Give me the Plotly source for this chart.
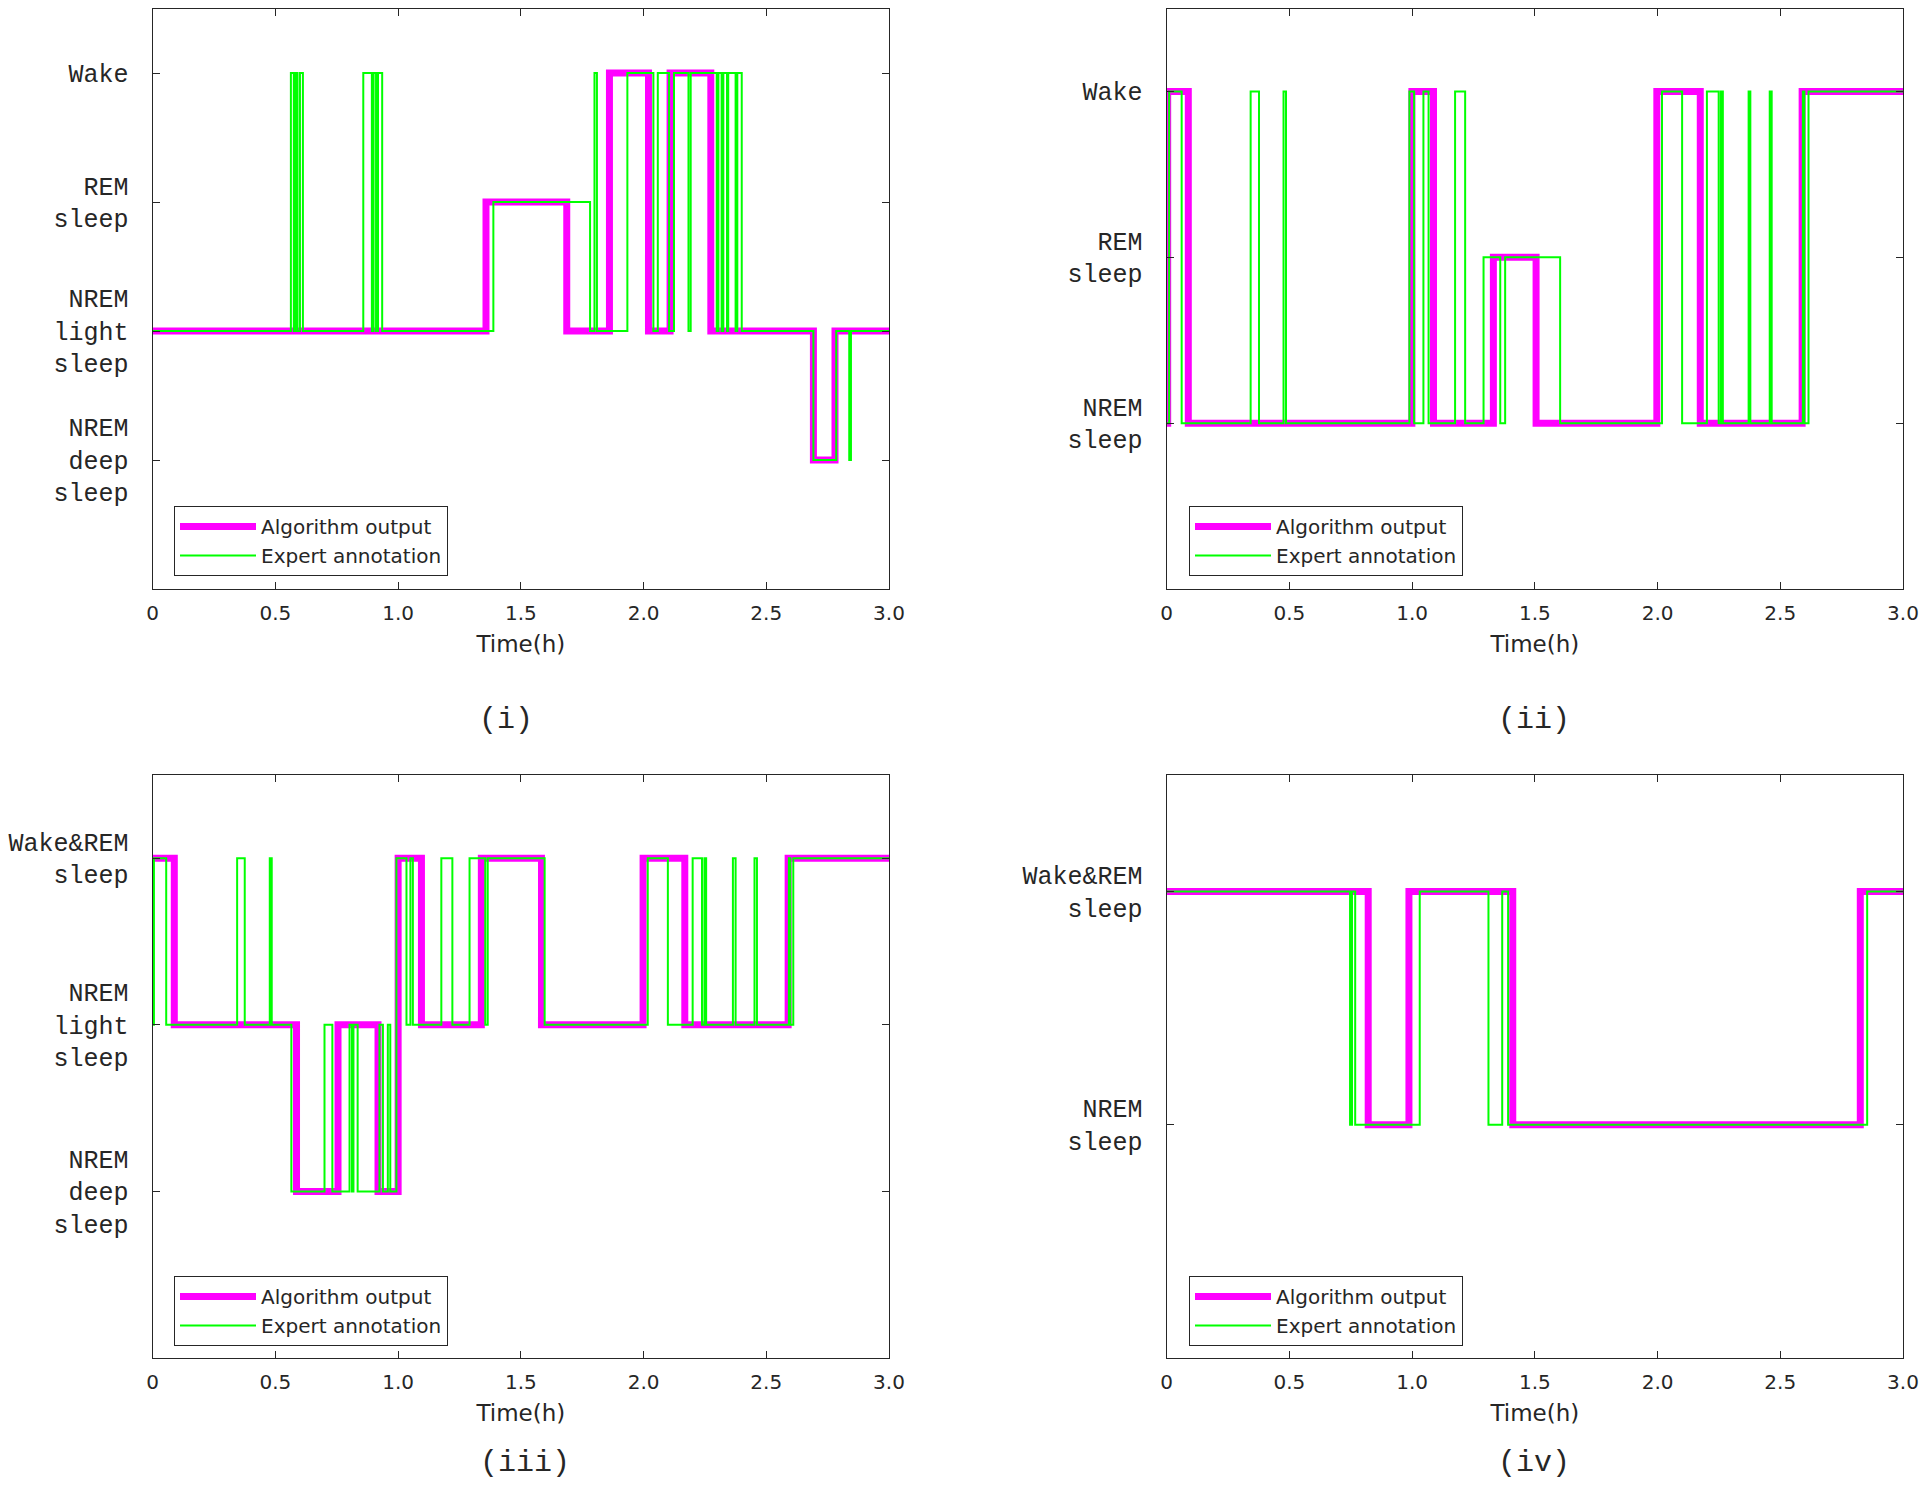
import plotly.graph_objects as go

# ---------------- data (change points in hours, stage levels) ----------------
# Panel (i): 1=NREM deep, 2=NREM light, 3=REM, 4=Wake
P1_ALG_T = [0, 1.358, 1.687, 1.861, 2.020, 2.108, 2.274, 2.692, 2.780, 3.0]
P1_ALG_S = [2, 3, 2, 4, 2, 4, 2, 1, 2, 2]
P1_EXP_T = [0, 0.563, 0.575, 0.582, 0.590, 0.600, 0.612, 0.858, 0.893, 0.900, 0.910, 0.918, 0.935,
            1.388, 1.782, 1.800, 1.810, 1.934, 2.040, 2.058, 2.104, 2.124, 2.183, 2.192, 2.298,
            2.305, 2.318, 2.325, 2.340, 2.345, 2.375, 2.382, 2.400, 2.692, 2.785, 2.838, 2.845, 3.0]
P1_EXP_S = [2, 4, 2, 4, 2, 4, 2, 4, 2, 4, 2, 4, 2,
            3, 2, 4, 2, 4, 2, 4, 2, 4, 2, 4, 2,
            4, 2, 4, 2, 4, 2, 4, 2, 1, 2, 1, 2, 2]
P1_YVALS = [1, 2, 3, 4]
P1_YTEXT = ["NREM<br>deep<br>sleep", "NREM<br>light<br>sleep", "REM<br>sleep", "Wake"]

# Panel (ii): 1=NREM, 2=REM, 3=Wake
P2_ALG_T = [0, 0.004, 0.088, 0.999, 1.087, 1.331, 1.505, 1.997, 2.174, 2.589, 3.0]
P2_ALG_S = [1, 3, 1, 3, 1, 2, 1, 3, 1, 3, 3]
P2_EXP_T = [0, 0.010, 0.061, 0.342, 0.376, 0.476, 0.486, 0.989, 1.008, 1.046, 1.067, 1.175, 1.216,
            1.291, 1.359, 1.379, 1.603, 2.018, 2.100, 2.201, 2.249, 2.258, 2.266, 2.371, 2.378,
            2.457, 2.465, 2.592, 2.598, 2.615, 3.0]
P2_EXP_S = [1, 3, 1, 3, 1, 3, 1, 3, 1, 3, 1, 3, 1,
            2, 1, 2, 1, 3, 1, 3, 1, 3, 1, 3, 1,
            3, 1, 3, 1, 3, 3]
P2_YVALS = [1, 2, 3]
P2_YTEXT = ["NREM<br>sleep", "REM<br>sleep", "Wake"]

# Panel (iii): 1=NREM deep, 2=NREM light, 3=Wake&REM
P3_ALG_T = [0, 0.088, 0.586, 0.755, 0.918, 1.000, 1.095, 1.339, 1.584, 1.998, 2.168, 2.589, 3.0]
P3_ALG_S = [3, 2, 1, 2, 1, 3, 2, 3, 2, 3, 2, 3, 3]
P3_EXP_T = [0, 0.005, 0.055, 0.344, 0.375, 0.477, 0.485, 0.565, 0.700, 0.732, 0.802, 0.812, 0.818,
            0.835, 0.924, 0.938, 0.958, 0.968, 0.993, 1.034, 1.050, 1.060, 1.176, 1.221, 1.291,
            1.355, 1.365, 1.597, 2.017, 2.099, 2.200, 2.238, 2.248, 2.255, 2.364, 2.375, 2.452,
            2.462, 2.592, 2.598, 2.610, 3.0]
P3_EXP_S = [2, 3, 2, 3, 2, 3, 2, 1, 2, 1, 2, 1, 2,
            1, 2, 1, 2, 1, 3, 2, 3, 2, 3, 2, 3,
            2, 3, 2, 3, 2, 3, 2, 3, 2, 3, 2, 3,
            2, 3, 2, 3, 3]
P3_YVALS = [1, 2, 3]
P3_YTEXT = ["NREM<br>deep<br>sleep", "NREM<br>light<br>sleep", "Wake&amp;REM<br>sleep"]

# Panel (iv): 1=NREM, 2=Wake&REM
P4_ALG_T = [0, 0.821, 0.987, 1.410, 2.826, 3.0]
P4_ALG_S = [2, 1, 2, 1, 2, 2]
P4_EXP_T = [0, 0.747, 0.755, 0.768, 1.031, 1.311, 1.367, 1.391, 2.854, 3.0]
P4_EXP_S = [2, 1, 2, 1, 2, 1, 2, 1, 2, 2]
P4_YVALS = [1, 2]
P4_YTEXT = ["NREM<br>sleep", "Wake&amp;REM<br>sleep"]

X_TICKVALS = [0, 0.5, 1.0, 1.5, 2.0, 2.5, 3.0]
X_TICKTEXT = ["0", "0.5", "1.0", "1.5", "2.0", "2.5", "3.0"]
CAPTIONS = ["(i)", "(ii)", "(iii)", "(iv)"]
SERIES_NAMES = ["Algorithm output", "Expert annotation"]

# ---------------- layout geometry ----------------
W, H = 1920, 1485
OFF = 0  # page body margin removed by post_script
AX_COL = "#262626"
MAGENTA = "#FF00FF"
GREEN = "#00FF00"

panels = [
    dict(alg=(P1_ALG_T, P1_ALG_S), exp=(P1_EXP_T, P1_EXP_S), yv=P1_YVALS, yt=P1_YTEXT, yr=[0, 4.5],
         xd=[152.7, 889], yd=[8.6, 589], leg=(174, 506), cap=(506, 720)),
    dict(alg=(P2_ALG_T, P2_ALG_S), exp=(P2_EXP_T, P2_EXP_S), yv=P2_YVALS, yt=P2_YTEXT, yr=[0, 3.5],
         xd=[1166.7, 1903], yd=[8.6, 589], leg=(1189, 506), cap=(1534, 720)),
    dict(alg=(P3_ALG_T, P3_ALG_S), exp=(P3_EXP_T, P3_EXP_S), yv=P3_YVALS, yt=P3_YTEXT, yr=[0, 3.5],
         xd=[152.7, 889], yd=[775, 1358], leg=(174, 1276), cap=(525, 1463)),
    dict(alg=(P4_ALG_T, P4_ALG_S), exp=(P4_EXP_T, P4_EXP_S), yv=P4_YVALS, yt=P4_YTEXT, yr=[0, 2.5],
         xd=[1166.7, 1903], yd=[775, 1358], leg=(1189, 1276), cap=(1534, 1463)),
]


def px(xpix):
    return (xpix - OFF) / W


def py(ypix):
    return 1 - (ypix - OFF) / H


fig = go.Figure()
layout = dict(
    width=W, height=H,
    margin=dict(l=0, r=0, t=0, b=0),
    paper_bgcolor="white", plot_bgcolor="white",
    showlegend=True,
    annotations=[],
)

for i, p in enumerate(panels):
    n = i + 1
    sfx = "" if n == 1 else str(n)
    xa, ya = "x" + sfx, "y" + sfx
    leg = "legend" + sfx
    fig.add_trace(go.Scatter(x=p["alg"][0], y=p["alg"][1], mode="lines", line_shape="hv",
                             line=dict(color=MAGENTA, width=7), name=SERIES_NAMES[0],
                             xaxis=xa, yaxis=ya, legend=leg))
    fig.add_trace(go.Scatter(x=p["exp"][0], y=p["exp"][1], mode="lines", line_shape="hv",
                             line=dict(color=GREEN, width=2), name=SERIES_NAMES[1],
                             xaxis=xa, yaxis=ya, legend=leg))
    xdom = [px(p["xd"][0]), px(p["xd"][1])]
    ydom = [py(p["yd"][1]), py(p["yd"][0])]
    layout["xaxis" + sfx] = dict(
        domain=xdom, anchor=ya, range=[0, 3], tickvals=X_TICKVALS, ticktext=X_TICKTEXT,
        ticks="inside", ticklen=7, tickcolor=AX_COL, tickwidth=1,
        showline=True, linecolor=AX_COL, linewidth=1.2, mirror="allticks",
        showgrid=False, zeroline=False,
        tickfont=dict(family="DejaVu Sans", size=20, color=AX_COL),
        ticklabelstandoff=6,
        title=dict(text="Time(h)", font=dict(family="DejaVu Sans", size=23, color=AX_COL), standoff=11),
        automargin=False,
    )
    layout["yaxis" + sfx] = dict(
        domain=ydom, anchor=xa, range=p["yr"], tickvals=p["yv"], ticktext=p["yt"],
        ticks="inside", ticklen=7, tickcolor=AX_COL, tickwidth=1,
        showline=True, linecolor=AX_COL, linewidth=1.2, mirror="allticks",
        showgrid=False, zeroline=False,
        tickfont=dict(family="Liberation Mono", size=25, color=AX_COL),
        ticklabelstandoff=18,
        automargin=False,
    )
    layout[leg] = dict(
        x=px(p["leg"][0]), y=py(p["leg"][1]), xanchor="left", yanchor="top",
        bgcolor="white", bordercolor=AX_COL, borderwidth=1,
        font=dict(family="DejaVu Sans", size=20, color=AX_COL),
        itemwidth=76, tracegroupgap=0,
        entrywidth=192, entrywidthmode="pixels",
    )
    layout["annotations"].append(dict(
        text=CAPTIONS[i], xref="paper", yref="paper",
        x=px(p["cap"][0]), y=py(p["cap"][1]), xanchor="center", yanchor="middle",
        showarrow=False, font=dict(family="Liberation Mono", size=30, color=AX_COL),
    ))

fig.update_layout(**layout)
fig.write_html(
    "out.html",
    config={"displayModeBar": False},
    post_script="document.body.style.margin='0';document.body.style.overflow='hidden';",
)
